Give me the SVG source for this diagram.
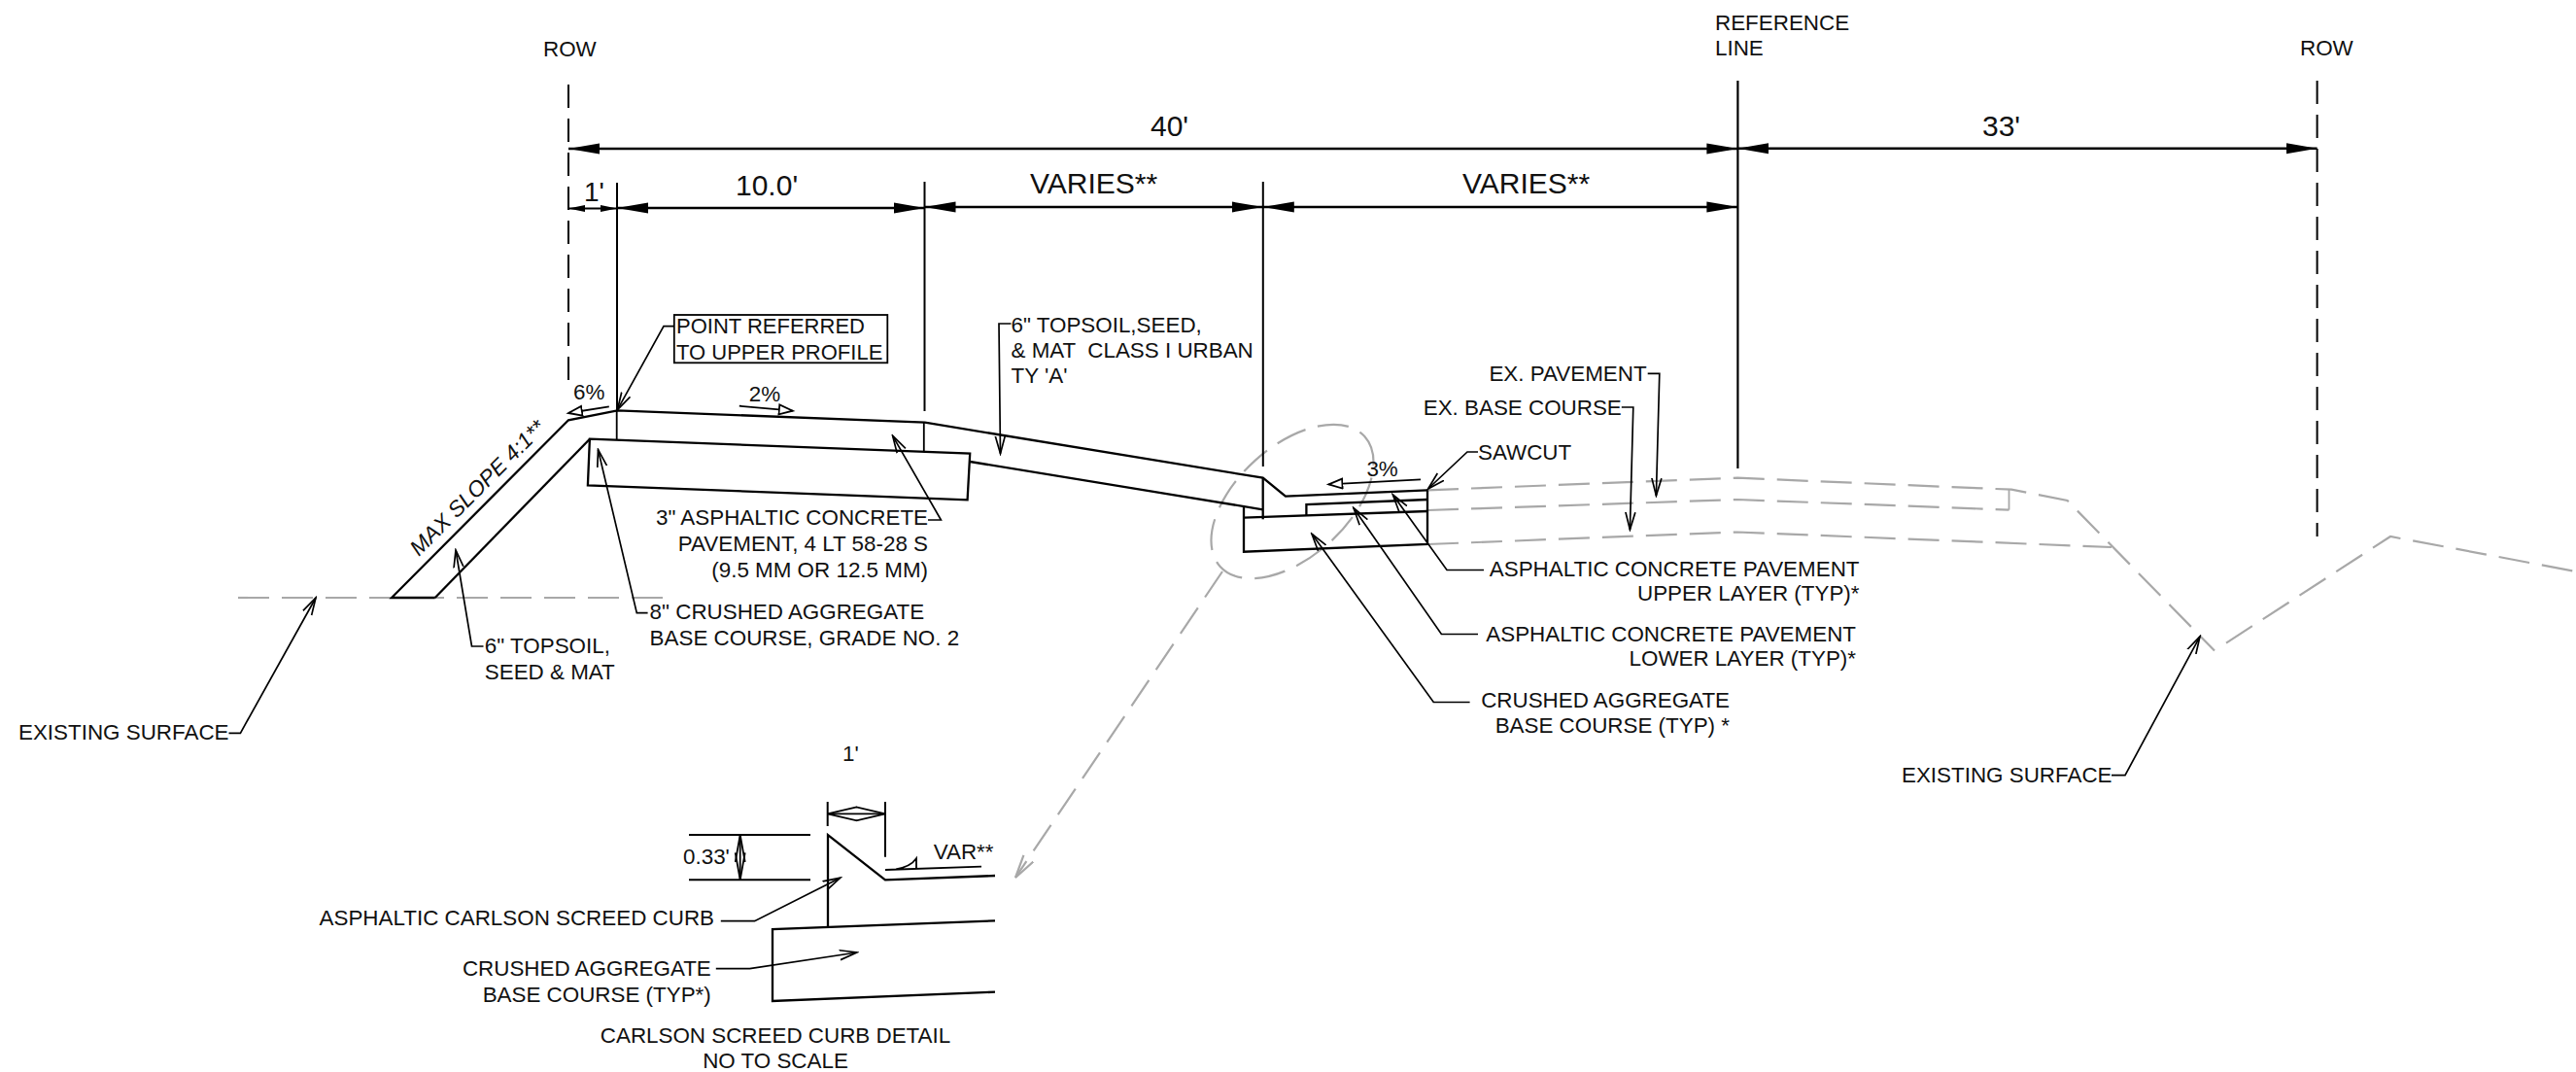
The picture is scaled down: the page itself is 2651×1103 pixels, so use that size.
<svg xmlns="http://www.w3.org/2000/svg" width="2651" height="1103" viewBox="0 0 2651 1103">
<style>
text{font-family:"Liberation Sans",Arial,sans-serif;font-size:22.4px;fill:#111;white-space:pre}
.big{font-size:30px}
.s22{font-size:22px}
.e{text-anchor:end}
.m{text-anchor:middle}
.it{font-style:italic;font-size:22.6px}
.sec{fill:none;stroke:#000;stroke-width:2.3;stroke-linejoin:miter}
.thin{fill:none;stroke:#000;stroke-width:1.8}
.dim{fill:none;stroke:#000;stroke-width:2.6}
.dimS{fill:none;stroke:#000;stroke-width:1.8}
.ldr{fill:none;stroke:#000;stroke-width:1.7;marker-end:url(#open)}
.row{fill:none;stroke:#000;stroke-width:2;stroke-dasharray:24 11}
.ex{fill:none;stroke:#a8a8a8;stroke-width:2.2;stroke-dasharray:32 13}
</style>
<defs>
<marker id="sa" markerUnits="userSpaceOnUse" markerWidth="34" markerHeight="14" refX="32" refY="6" orient="auto-start-reverse"><path d="M32 6L0 0.5V11.5Z" fill="#000"/></marker>
<marker id="ss" markerUnits="userSpaceOnUse" markerWidth="20" markerHeight="10" refX="17" refY="4" orient="auto-start-reverse"><path d="M17 4L0 0.5V7.5Z" fill="#000"/></marker>
<marker id="open" markerUnits="userSpaceOnUse" markerWidth="20" markerHeight="14" refX="18" refY="6" orient="auto-start-reverse"><path d="M0 1L18 6L0 11" fill="none" stroke="#000" stroke-width="1.7"/></marker>
<marker id="openL" markerUnits="userSpaceOnUse" markerWidth="32" markerHeight="18" refX="30" refY="8" orient="auto-start-reverse"><path d="M0 1L30 8L0 15" fill="none" stroke="#000" stroke-width="1.8"/></marker>
<marker id="openV" markerUnits="userSpaceOnUse" markerWidth="30" markerHeight="14" refX="28" refY="6" orient="auto-start-reverse"><path d="M0 1L28 6L0 11" fill="none" stroke="#000" stroke-width="1.8"/></marker>
<marker id="hollow" markerUnits="userSpaceOnUse" markerWidth="18" markerHeight="14" refX="15" refY="6" orient="auto"><path d="M15 6L1 1V11Z" fill="#fff" stroke="#000" stroke-width="1.8"/></marker>
<marker id="openG" markerUnits="userSpaceOnUse" markerWidth="26" markerHeight="16" refX="24" refY="7" orient="auto"><path d="M0 1L24 7L0 13" fill="none" stroke="#a8a8a8" stroke-width="2.2"/></marker>
</defs>

<g id="existing-surface-lines">
<path class="ex" d="M245 615H684"/>
<path class="ex" d="M1469 504.3L1788 491.7L2070 503.7L2127.5 515L2279 669.5"/>
<path class="ex" d="M1469 525L1788 514L2067.5 524.6"/>
<path class="thin" style="stroke:#a8a8a8" d="M2067.5 503.7V524.6"/>
<path class="ex" d="M1469 560L1788 547.5L2173 563"/>
<path class="ex" d="M2291 661.6L2460 552L2651 588"/>
</g>

<g id="detail-callout">
<ellipse class="ex" cx="1330" cy="516" rx="100" ry="57" transform="rotate(-42 1330 516)"/>
<path class="ex" d="M1258 588L1045 903" marker-end="url(#openG)"/>
</g>

<g id="row-left"><text x="559" y="57.5">ROW</text></g>
<g id="row-right"><text x="2367" y="57">ROW</text></g>
<g id="reference-line"><text x="1765" y="31">REFERENCE</text><text x="1765" y="56.5">LINE</text></g>

<g id="fill-slope">
<path class="sec" d="M447.7 615H403L585 432.3L635.4 422.3L951.8 434.7L1299.7 491.7L1323 510.7L1469 504.3"/>
<path class="sec" d="M447.7 615L606.9 451.7"/>
<path class="sec" d="M998.2 475L1299.7 524.3"/>
<path class="thin" d="M634.7 422.7V452.7M950.8 434.7V465.3"/>
<text class="it" transform="translate(431 573) rotate(-45)">MAX SLOPE 4:1**</text>
</g>

<g id="aggregate-base-left">
<path class="sec" d="M606.9 451.7L998.2 466.7L995.6 514.3L604.9 499.3Z"/>
</g>

<g id="pavement-right">
<path class="sec" d="M1299.7 491.7V534.3"/>
<path class="sec" d="M1280 521.7V567.7L1469 560V504.3"/>
<path class="sec" d="M1280 532.7L1469 526"/>
<path class="sec" d="M1344.4 530.7V519L1469 514"/>
</g>

<g id="detail-curb">
<path class="sec" d="M852 953.3V859L911 905.3L1024 901"/>
<path class="sec" d="M1024 947.3L795 956V1030L1024 1020.7"/>
<path class="thin" d="M911 895L1010 891.7M922 894.3Q937 892 943 883.3V893"/>
<path class="sec" style="stroke-width:2" d="M709 859H834M709 905.3H834"/>
<path class="sec" style="stroke-width:2" d="M851.7 825V850M911 825V881.7"/>
</g>

<g id="connectors">
<path class="row" d="M585 87V395"/>
<path class="row" d="M2384.6 83V552"/>
<path class="thin" style="stroke-width:2.2" d="M1788.4 83V482"/>
<path class="thin" style="stroke-width:2" d="M635 188V423M951.5 187V423M1299.8 187V480"/>
<path class="dim" d="M585 153H1788.4" marker-start="url(#sa)" marker-end="url(#sa)"/>
<path class="dim" d="M1788.4 152.8H2384.6" marker-start="url(#sa)" marker-end="url(#sa)"/>
<path class="dimS" d="M585 214.5H635" marker-start="url(#ss)" marker-end="url(#ss)"/>
<path class="dim" d="M635 214H951.5" marker-start="url(#sa)" marker-end="url(#sa)"/>
<path class="dim" d="M951.5 213H1299.8" marker-start="url(#sa)" marker-end="url(#sa)"/>
<path class="dim" d="M1299.8 213H1788.4" marker-start="url(#sa)" marker-end="url(#sa)"/>
<path class="dimS" d="M851.7 837.3H911" marker-start="url(#openL)" marker-end="url(#openL)"/>
<path class="dimS" d="M761.7 859V905.3" marker-start="url(#openV)" marker-end="url(#openV)"/>
<path class="thin" d="M626.8 418.3L585 425" marker-end="url(#hollow)"/>
<path class="thin" d="M760.8 417.7L815.8 422.7" marker-end="url(#hollow)"/>
<path class="thin" d="M1462 493.3L1367.4 498.3" marker-end="url(#hollow)"/>
<path class="ldr" d="M693.8 335.7H683L635.4 421.7"/>
<path class="ldr" d="M1040.5 333H1028L1029.5 466.7"/>
<path class="ldr" d="M955 535H968.4L918.6 448.3"/>
<path class="ldr" d="M666.6 630.7H655.3L615.5 462.7"/>
<path class="ldr" d="M497.5 665H485.5L469 566"/>
<path class="ldr" d="M235.5 754.3H247.4L325 615"/>
<path class="ldr" d="M1521 465H1510L1469.6 503"/>
<path class="ldr" d="M1695.7 384.3H1707.8L1704.4 510"/>
<path class="ldr" d="M1668.8 419H1680.8L1677.4 545"/>
<path class="ldr" d="M1527 586.5H1489L1433.4 509"/>
<path class="ldr" d="M1521 652.5H1483.4L1393 522.7"/>
<path class="ldr" d="M1512.6 722.5H1475.3L1350 549.3"/>
<path class="ldr" d="M2173 797.6H2187L2264 654.8"/>
<path class="ldr" d="M741.8 947.7H776.6L864.7 903.3"/>
<path class="ldr" d="M736.8 996.7H771.6L882 980"/>
</g>

<g id="dimension-labels">
<text class="big" x="1184" y="140">40'</text>
<text class="big" x="2040" y="139.5">33'</text>
<text class="big" x="601" y="207" style="font-size:28px">1'</text>
<text class="big" x="757" y="201">10.0'</text>
<text class="big" x="1060" y="199.3">VARIES**</text>
<text class="big" x="1505" y="199.3">VARIES**</text>
<text x="590" y="411">6%</text>
<text x="770.7" y="413.3">2%</text>
<text x="1406.4" y="490">3%</text>
<text x="867" y="783.3">1'</text>
<text x="703" y="889">0.33'</text>
<text x="960.7" y="884.3">VAR**</text>
</g>

<g id="note-point-referred">
<rect x="693.8" y="324" width="219.5" height="49.3" fill="none" stroke="#000" stroke-width="1.8"/>
<text class="s22" x="696" y="343.3">POINT REFERRED</text>
<text class="s22" x="696" y="370">TO UPPER PROFILE</text>
</g>
<g id="note-topsoil-class"><text x="1040.5" y="341.7">6" TOPSOIL,SEED,</text><text x="1040.5" y="368.3">&amp; MAT  CLASS I URBAN</text><text x="1040.5" y="394.3">TY 'A'</text></g>
<g id="note-asphaltic-3"><text class="e" x="955" y="540">3" ASPHALTIC CONCRETE</text><text class="e" x="955" y="567.3">PAVEMENT, 4 LT 58-28 S</text><text class="e" x="955" y="594">(9.5 MM OR 12.5 MM)</text></g>
<g id="note-crushed-8"><text x="668.6" y="637.3">8" CRUSHED AGGREGATE</text><text x="668.6" y="664">BASE COURSE, GRADE NO. 2</text></g>
<g id="note-topsoil-6"><text x="498.8" y="672.3">6" TOPSOIL,</text><text x="498.8" y="699">SEED &amp; MAT</text></g>
<g id="note-existing-left"><text x="19" y="761">EXISTING SURFACE</text></g>
<g id="note-existing-right"><text x="1957" y="804.5">EXISTING SURFACE</text></g>
<g id="note-ex-pavement"><text class="e" x="1694.6" y="392.3">EX. PAVEMENT</text></g>
<g id="note-ex-base"><text class="e" x="1668.8" y="427">EX. BASE COURSE</text></g>
<g id="note-sawcut"><text x="1521" y="472.7">SAWCUT</text></g>
<g id="note-upper"><text class="e" x="1913.5" y="593">ASPHALTIC CONCRETE PAVEMENT</text><text class="e" x="1913.5" y="618">UPPER LAYER (TYP)*</text></g>
<g id="note-lower"><text class="e" x="1910" y="660">ASPHALTIC CONCRETE PAVEMENT</text><text class="e" x="1910" y="685">LOWER LAYER (TYP)*</text></g>
<g id="note-crushed-typ"><text class="e" x="1780" y="727.5">CRUSHED AGGREGATE</text><text class="e" x="1780" y="754">BASE COURSE (TYP) *</text></g>
<g id="note-carlson-curb"><text class="e" x="735" y="951.7">ASPHALTIC CARLSON SCREED CURB</text></g>
<g id="note-crushed-detail"><text class="e" x="731.8" y="1004">CRUSHED AGGREGATE</text><text class="e" x="731.8" y="1030.7">BASE COURSE (TYP*)</text></g>
<g id="detail-title"><text class="m" x="798" y="1073.3">CARLSON SCREED CURB DETAIL</text><text class="m" x="798" y="1099">NO TO SCALE</text></g>
</svg>
